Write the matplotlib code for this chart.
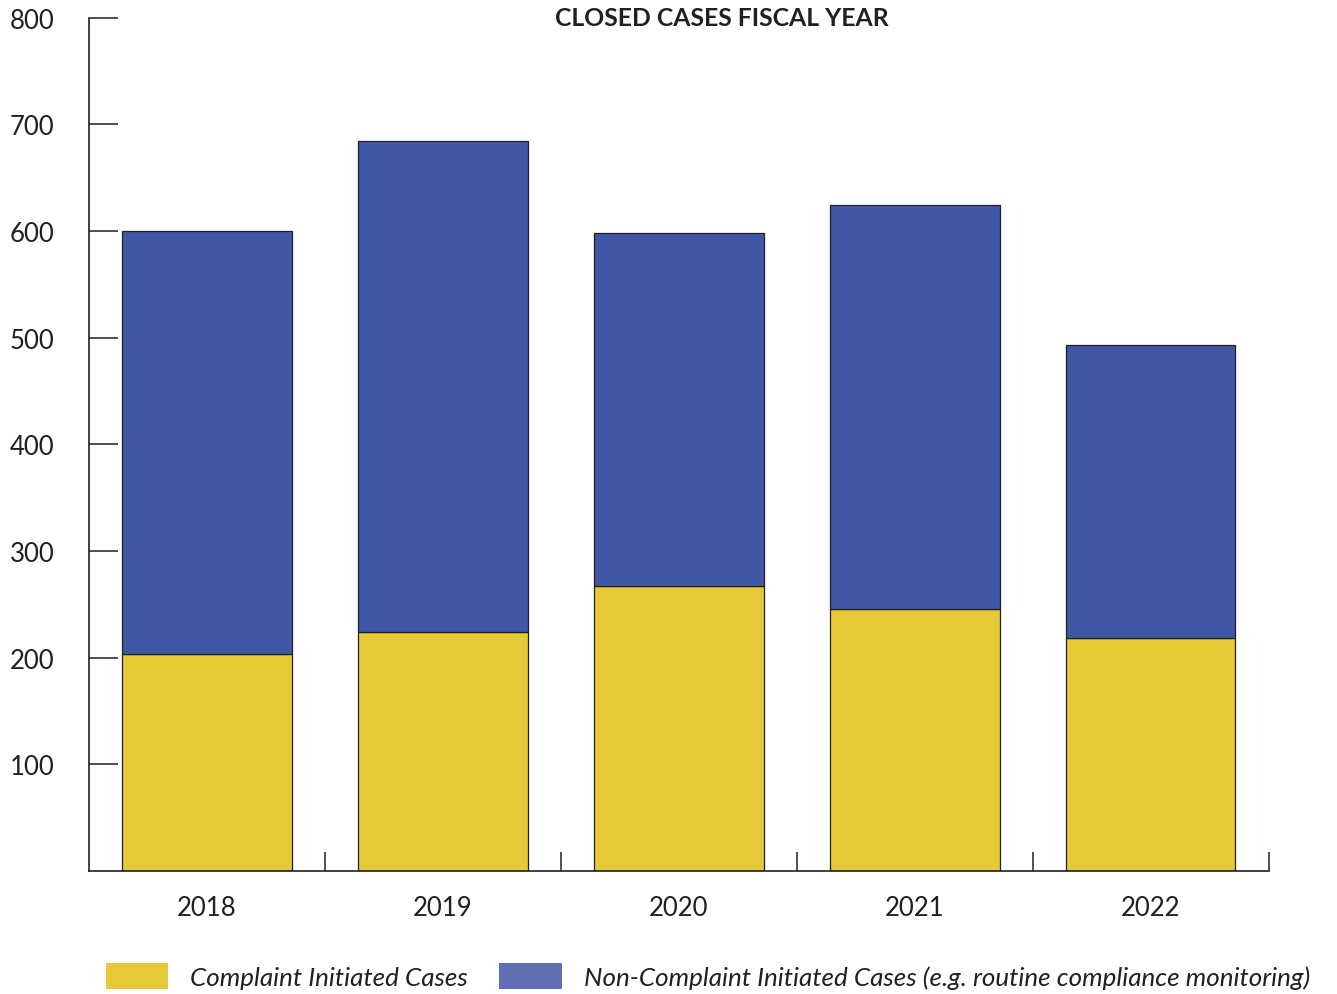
import matplotlib
matplotlib.use("Agg")
import matplotlib.pyplot as plt
from matplotlib.patches import Patch
import numpy as np

years = ["2018", "2019", "2020", "2021", "2022"]
complaint = [203, 224, 267, 246, 218]
non_complaint_total = [600, 684, 598, 624, 493]
non_complaint = [t - c for t, c in zip(non_complaint_total, complaint)]
yticks = [100, 200, 300, 400, 500, 600, 700, 800]

YELLOW = "#E6C937"
BLUE = "#3F57A5"
BLUE_LEG = "#636FB5"
INK = "#231F20"

plt.rcParams["font.family"] = ["Lato", "DejaVu Sans"]

fig = plt.figure(figsize=(13.37, 9.95), dpi=100)
ax = fig.add_axes([89/1337, 1 - 872/995, (1268.5-89)/1337, (872-18.7)/995])

x = np.arange(len(years))
ax.bar(x, complaint, width=0.72, color=YELLOW, edgecolor=INK, linewidth=0.9)
ax.bar(x, non_complaint, width=0.72, bottom=complaint, color=BLUE, edgecolor=INK, linewidth=0.9)

ax.set_xlim(-0.5, len(years) - 0.5)
ax.set_ylim(0, 800)

for s in ["top", "right"]:
    ax.spines[s].set_visible(False)
for s in ["left", "bottom"]:
    ax.spines[s].set_color(INK)
    ax.spines[s].set_linewidth(1.2)

ax.set_yticks(yticks)
ax.set_yticklabels([str(v) for v in yticks])
ax.tick_params(axis="y", direction="in", length=21, width=1.1, color=INK,
               labelsize=18.5, labelcolor=INK, pad=0)
for lab in ax.get_yticklabels():
    lab.set_horizontalalignment("left")
    lab.set_x(-79/1180)

ax.set_xticks(x)
ax.set_xticklabels(years)
ax.tick_params(axis="x", which="major", length=0, labelsize=18.5, labelcolor=INK, pad=17)
ax.set_xticks(np.arange(0.5, len(years), 1.0), minor=True)
ax.tick_params(axis="x", which="minor", direction="in", length=14, width=1.1, color=INK)

fig.text(722/1337, 1 - 19/995, "CLOSED CASES FISCAL YEAR", ha="center", va="center",
         fontsize=17.8, fontweight="bold", color=INK)

handles = [Patch(facecolor=YELLOW, edgecolor="none"), Patch(facecolor=BLUE_LEG, edgecolor="none")]
labels = ["Complaint Initiated Cases", "Non-Complaint Initiated Cases (e.g. routine compliance monitoring)"]
leg = fig.legend(handles, labels, loc="center left", bbox_to_anchor=(106/1337, 1 - 977/995),
                 ncol=2, frameon=False, prop={"style": "italic", "size": 18.7},
                 handlelength=2.4, handleheight=1.15, handletextpad=0.85, columnspacing=1.2,
                 borderpad=0, borderaxespad=0)
for t in leg.get_texts():
    t.set_color(INK)

fig.savefig("out.png", dpi=100)
